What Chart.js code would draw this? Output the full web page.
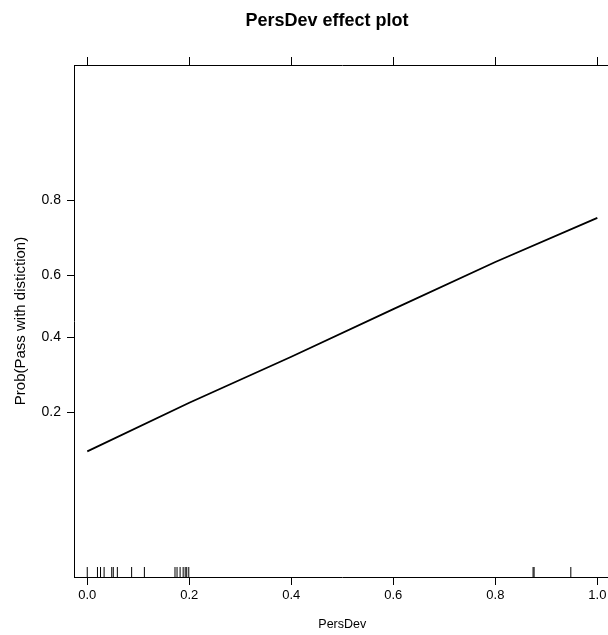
<!DOCTYPE html>
<html>
<head>
<meta charset="utf-8">
<title>PersDev effect plot</title>
<script src="https://cdn.jsdelivr.net/npm/chart.js@4.4.1/dist/chart.umd.min.js"></script>
<style>
    html, body { margin: 0; padding: 0; overflow: hidden; background: #fff; }
    #wrap { width: 654px; height: 635px; }
</style>
</head>
<body>
<div id="wrap"><canvas id="effectChart" width="654" height="635"></canvas></div>
<script>
// fitted effect line (PersDev -> probability)
const persDevLine = [0.0, 0.2, 0.4, 0.6, 0.8, 1.0];
const probLine = [0.13, 0.22, 0.34, 0.49, 0.64, 0.76];

// rug of observed PersDev values
const persDevRug = [0.0, 0.02, 0.026, 0.033, 0.048, 0.051, 0.059, 0.087, 0.112,
    0.172, 0.176, 0.182, 0.188, 0.192, 0.195, 0.199, 0.874, 0.876, 0.948];

const xTickValues = [0.0, 0.2, 0.4, 0.6, 0.8, 1.0];
const yTickProbs = [0.2, 0.4, 0.6, 0.8];

// logit scale like the effects package
const logit = p => Math.log(p / (1 - p));
const invLogit = v => 1 / (1 + Math.exp(-v));

const X_MIN = -0.026, X_MAX = 1.026;
const Y_MIN = -3.544, Y_MAX = 3.152;
const FONT = "'Liberation Sans', Arial, Helvetica, sans-serif";
const INK = '#000';

Chart.defaults.font.family = FONT;
Chart.defaults.color = INK;

// rug sits on the bottom of the panel, 10px tall
const rugY = Y_MIN + (Y_MAX - Y_MIN) * 5 / 512;

const ctx = document.getElementById('effectChart').getContext('2d');
new Chart(ctx, {
    type: 'scatter',
    data: {
        datasets: [
            {
                label: 'effect',
                data: persDevLine.map((x, i) => ({ x: x, y: logit(probLine[i]) })),
                showLine: true,
                borderColor: INK,
                borderWidth: 1.8,
                pointRadius: 0,
                tension: 0
            },
            {
                label: 'rug',
                data: persDevRug.map(x => ({ x: x, y: rugY })),
                pointStyle: 'line',
                rotation: 90,
                pointRadius: 5,
                borderColor: INK,
                borderWidth: 1,
                backgroundColor: INK
            }
        ]
    },
    options: {
        responsive: false,
        animation: false,
        devicePixelRatio: 1,
        layout: { padding: 0 },
        plugins: {
            legend: { display: false },
            tooltip: { enabled: false },
            title: {
                display: true,
                text: 'PersDev effect plot',
                color: INK,
                font: { size: 18, weight: 'bold', lineHeight: 1.2 },
                padding: { top: 10, bottom: 0 }
            }
        },
        scales: {
            x: {
                type: 'linear',
                position: 'bottom',
                min: X_MIN,
                max: X_MAX,
                afterBuildTicks: s => { s.ticks = xTickValues.map(v => ({ value: v })); },
                afterFit: s => { s.height = 58; },
                ticks: {
                    color: INK,
                    font: { size: 13 },
                    padding: 3,
                    maxRotation: 0,
                    callback: v => v.toFixed(1)
                },
                grid: { drawOnChartArea: false, drawTicks: true, tickLength: 8, color: INK },
                border: { display: true, color: INK, width: 1 },
                title: {
                    display: true,
                    text: 'PersDev',
                    color: INK,
                    font: { size: 12.5, lineHeight: 1.2 },
                    padding: { top: 0, bottom: 3 }
                }
            },
            xTop: {
                type: 'linear',
                position: 'top',
                min: X_MIN,
                max: X_MAX,
                afterBuildTicks: s => { s.ticks = xTickValues.map(v => ({ value: v })); },
                afterFit: s => { s.height = 33.4; },
                ticks: { display: false },
                grid: { drawOnChartArea: false, drawTicks: true, tickLength: 8, color: INK },
                border: { display: true, color: INK, width: 1 }
            },
            y: {
                type: 'linear',
                position: 'left',
                min: Y_MIN,
                max: Y_MAX,
                afterBuildTicks: s => { s.ticks = yTickProbs.map(p => ({ value: logit(p) })); },
                afterFit: s => { s.width = 74; },
                ticks: {
                    color: INK,
                    font: { size: 14 },
                    padding: 6,
                    callback: v => invLogit(v).toFixed(1)
                },
                grid: { drawOnChartArea: false, drawTicks: true, tickLength: 7, color: INK },
                border: { display: true, color: INK, width: 1 },
                title: {
                    display: true,
                    text: 'Prob(Pass with distiction)',
                    color: INK,
                    font: { size: 15, lineHeight: 1.2 },
                    padding: { top: 11.5, bottom: 0 }
                }
            },
            yRight: {
                type: 'linear',
                position: 'right',
                min: Y_MIN,
                max: Y_MAX,
                afterFit: s => { s.width = 654 - 610.6; },
                ticks: { display: false },
                grid: { display: false },
                border: { display: true, color: INK, width: 1 }
            }
        }
    }
});
</script>
</body>
</html>
